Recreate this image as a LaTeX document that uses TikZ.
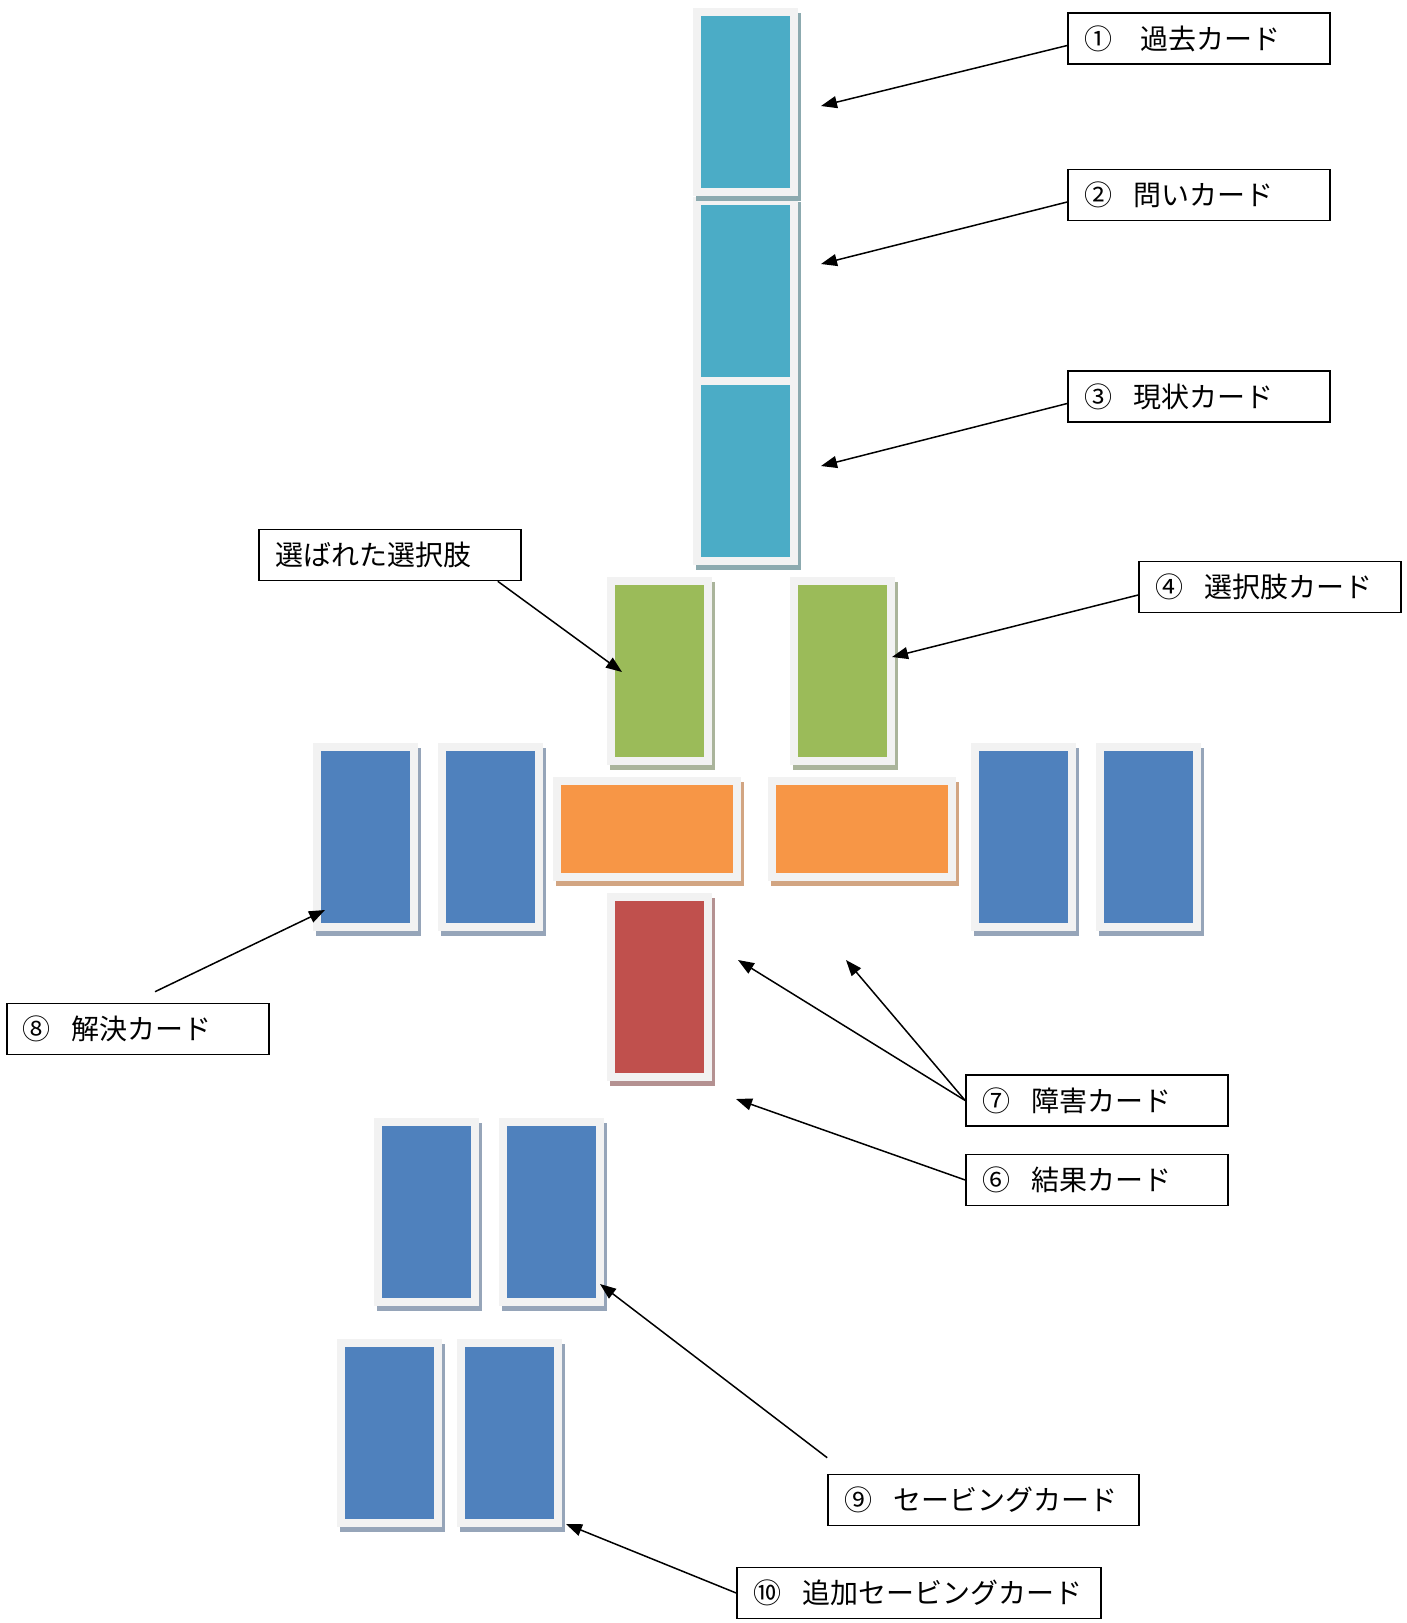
\documentclass[tikz,border=0pt]{standalone}
\usepackage{fontspec}
\setmainfont{Noto Sans CJK JP}
\usetikzlibrary{arrows.meta,shadows}

\definecolor{cardframe}{HTML}{F2F2F2}
\definecolor{cyancard}{HTML}{4BACC6}
\definecolor{cyanshadow}{HTML}{8CAAAF}
\definecolor{greencard}{HTML}{9BBB59}
\definecolor{greenshadow}{HTML}{AAB49B}
\definecolor{orangecard}{HTML}{F79646}
\definecolor{orangeshadow}{HTML}{D2A582}
\definecolor{redcard}{HTML}{C0504D}
\definecolor{redshadow}{HTML}{B49191}
\definecolor{bluecard}{HTML}{4F81BD}
\definecolor{blueshadow}{HTML}{96A5B9}

\tikzset{
    card/.style 2 args={
        rectangle,
        fill=cardframe,
        inner sep=0pt,
        minimum width=52.5pt,
        minimum height=94pt,
        drop shadow={shadow xshift=1.5pt, shadow yshift=-2.5pt,
                     fill=#2, opacity=1},
        path picture={
            \fill[#1] ([shift={(4pt,4pt)}]path picture bounding box.south west)
                rectangle ([shift={(-4pt,-4pt)}]path picture bounding box.north east);
        }
    },
    cyan card/.style={card={cyancard}{cyanshadow}},
    green card/.style={card={greencard}{greenshadow}},
    red card/.style={card={redcard}{redshadow}},
    blue card/.style={card={bluecard}{blueshadow}},
    orange card/.style={
        card={orangecard}{orangeshadow},
        minimum width=94pt,
        minimum height=52pt
    },
    tag/.style={
        rectangle,
        draw=black, line width=0.8pt,
        minimum height=25.5pt,
        inner xsep=8pt,
        text width=#1,
        align=left,
        font=\fontsize{14pt}{17pt}\selectfont
    },
    tag/.default=115pt,
    pointer/.style={-{Triangle[length=8pt,width=6pt]}, line width=0.75pt}
}
\newcommand{\numgap}{\hspace{0.75em}}

\begin{document}
\begin{tikzpicture}[x=0.5pt,y=-0.5pt]
    \useasboundingbox (0,0) rectangle (1407,1623);

    % the column of three cards, the middle one underneath
    \node[cyan card] (question) at (745.5,291) {};
    \node[cyan card] (past) at (745.5,102) {};
    \node[cyan card] (present) at (745.5,471) {};

    \node[green card] (chosen) at (659.5,671) {};
    \node[green card] (choice) at (842.5,671) {};
    \node[orange card] (block left) at (647,829) {};
    \node[orange card] (block right) at (862,829) {};
    \node[red card] (result) at (659.5,986.5) {};

    \node[blue card] (solve 1) at (365.5,837) {};
    \node[blue card] (solve 2) at (490.5,837) {};
    \node[blue card] (solve 3) at (1023.5,837) {};
    \node[blue card] (solve 4) at (1148.5,837) {};

    \node[blue card] (save 1) at (426.5,1211.5) {};
    \node[blue card] (save 2) at (551,1211.5) {};
    \node[blue card] (extra 1) at (389.5,1433) {};
    \node[blue card] (extra 2) at (509,1433) {};

    % labels
    \node[tag] (past label) at (1199,38.5) {①\quad 過去カード};
    \node[tag] (question label) at (1199,195) {②\numgap 問いカード};
    \node[tag] (present label) at (1199,396.5) {③\numgap 現状カード};
    \node[tag] (choice label) at (1270,587) {④\numgap 選択肢カード};
    \node[tag] (chosen label) at (390,555) {選ばれた選択肢};
    \node[tag] (solve label) at (138,1029) {⑧\numgap 解決カード};
    \node[tag] (block label) at (1097,1100.5) {⑦\numgap 障害カード};
    \node[tag] (result label) at (1097,1180) {⑥\numgap 結果カード};
    \node[tag=139.5pt] (save label) at (983.5,1500) {⑨\numgap セービングカード};
    \node[tag=166pt] (extra label) at (919,1593) {⑩\numgap 追加セービングカード};

    % where the arrows point
    \coordinate (past tip) at (821,106);
    \coordinate (question tip) at (821,264);
    \coordinate (present tip) at (821,466);
    \coordinate (choice tip) at (892,657);
    \coordinate (chosen tip) at (622,672);
    \coordinate (solve tip) at (325,910);
    \coordinate (block tip a) at (738,960);
    \coordinate (block tip b) at (846,960);
    \coordinate (result tip) at (736,1099);
    \coordinate (save tip) at (600,1284);
    \coordinate (extra tip) at (566,1524);

    \draw[pointer] ([yshift=-3.5pt]past label.west) -- (past tip);
    \draw[pointer] ([yshift=-3.5pt]question label.west) -- (question tip);
    \draw[pointer] ([yshift=-3.5pt]present label.west) -- (present tip);
    \draw[pointer] ([yshift=-4pt]choice label.west) -- (choice tip);
    \draw[pointer] ([xshift=-12pt]chosen label.south east) -- (chosen tip);
    \draw[pointer] ([shift={(8.5pt,5.5pt)}]solve label.north) -- (solve tip);
    \draw[pointer] (block label.west) -- (block tip a);
    \draw[pointer] (block label.west) -- (block tip b);
    \draw[pointer] (result label.west) -- (result tip);
    \draw[pointer] ([yshift=8pt]save label.north west) -- (save tip);
    \draw[pointer] (extra label.west) -- (extra tip);
\end{tikzpicture}
\end{document}
